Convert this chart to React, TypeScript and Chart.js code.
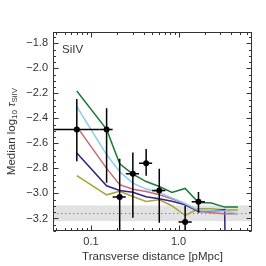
import React, { useEffect, useRef } from "react";
import { Chart, registerables } from "chart.js";
Chart.register(...registerables);

// Transverse distance bins [pMpc]
const distances = [0.069, 0.151, 0.213, 0.301, 0.427, 0.603, 0.84, 1.19, 1.69, 2.38, 3.36, 4.76];
// Model curves (median log10 tau_SiIV)
const modelGreen = [-2.181, -2.488, -2.763, -2.845, -2.905, -2.944, -2.992, -2.96, -3.072, -3.077, -3.109, -3.109];
const modelLightBlue = [-2.306, -2.689, -2.827, -2.917, -2.965, -2.992, -3.035, -3.08, -3.133, -3.141, -3.141, -3.16];
const modelPink = [-2.466, -2.8, -2.93, -2.967, -2.984, -3.01, -3.043, -3.083, -3.138, -3.154, -3.162, -3.162];
const modelIndigo = [-2.676, -2.939, -2.976, -2.991, -3.027, -3.043, -3.063, -3.09, -3.144, -3.144, -3.13, -10];
const modelOlive = [-2.857, -3.011, -2.983, -3.024, -3.064, -3.05, -3.098, -3.176, -3.122, -3.122, -3.133, -3.133];

// Observed points with error bars
const obsX = [0.069, 0.151, 0.213, 0.301, 0.427, 0.603, 1.19, 1.69];
const obsY = [-2.49, -2.49, -3.029, -2.843, -2.758, -2.976, -3.229, -3.067];
const obsYHi = [-2.245, -2.319, -2.723, -2.673, -2.644, -2.803, -3.098, -2.989];
const obsYLo = [-2.742, -2.915, -3.6, -3.194, -2.859, -3.234, -3.6, -3.154];
const obsXLo = [0.02, 0.125, 0.177, 0.25, 0.354, 0.5, 1.0, 1.414];
const obsXHi = [0.125, 0.177, 0.25, 0.354, 0.5, 0.707, 1.414, 2.0];

// Background level band
const bandLo = -3.221;
const bandHi = -3.096;
const bandMid = -3.16;

const yTicks = [-1.8, -2.0, -2.2, -2.4, -2.6, -2.8, -3.0, -3.2];
const yMinorStep = 0.05;
const xTicks = [0.1, 1.0];
const xTickLabels = ["0.1", "1.0"];

const X_MIN = 0.0369;
const X_MAX = 6.9;
const Y_MIN = -3.3;
const Y_MAX = -1.71;

const FONT = '"Liberation Sans", Arial, sans-serif';
const TEXT = "#333333";
const SPINE = "#333333";

const decor = {
  id: "decor",
  beforeDatasetsDraw(chart: any) {
    const { ctx, chartArea: a, scales } = chart;
    const ys = scales.y;
    ctx.save();
    const y1 = ys.getPixelForValue(bandHi);
    const y2 = ys.getPixelForValue(bandLo);
    ctx.fillStyle = "#e2e2e2";
    ctx.fillRect(a.left, y1, a.right - a.left, y2 - y1);
    const ym = Math.round(ys.getPixelForValue(bandMid)) + 0.5;
    ctx.strokeStyle = "#777777";
    ctx.lineWidth = 1.2;
    ctx.setLineDash([1.3, 2.7]);
    ctx.beginPath();
    ctx.moveTo(a.left, ym);
    ctx.lineTo(a.right, ym);
    ctx.stroke();
    ctx.restore();
  },
  afterDatasetsDraw(chart: any) {
    const { ctx, chartArea: a, scales } = chart;
    const xs = scales.x;
    const ys = scales.y;
    // error bars
    ctx.save();
    ctx.beginPath();
    ctx.rect(a.left, a.top, a.right - a.left, a.bottom - a.top);
    ctx.clip();
    ctx.strokeStyle = "#000";
    ctx.lineWidth = 1.5;
    for (let i = 0; i < obsX.length; i++) {
      const px = xs.getPixelForValue(obsX[i]);
      const py = ys.getPixelForValue(obsY[i]);
      ctx.beginPath();
      ctx.moveTo(px, ys.getPixelForValue(obsYHi[i]));
      ctx.lineTo(px, ys.getPixelForValue(obsYLo[i]));
      ctx.moveTo(xs.getPixelForValue(obsXLo[i]), py);
      ctx.lineTo(xs.getPixelForValue(obsXHi[i]), py);
      ctx.stroke();
    }
    ctx.fillStyle = "#000";
    for (let i = 0; i < obsX.length; i++) {
      ctx.beginPath();
      ctx.arc(xs.getPixelForValue(obsX[i]), ys.getPixelForValue(obsY[i]), 3, 0, Math.PI * 2);
      ctx.fill();
    }
    ctx.restore();

    ctx.save();
    // spines
    ctx.strokeStyle = SPINE;
    ctx.lineWidth = 1;
    const L = Math.round(a.left) + 0.5;
    const R = Math.round(a.right) - 0.5;
    const T = Math.round(a.top) + 0.5;
    const B = Math.round(a.bottom) - 0.5;
    ctx.strokeRect(L, T, R - L, B - T);
    // x ticks
    const majLen = 5;
    const minLen = 2.5;
    ctx.beginPath();
    for (let d = -2; d <= 1; d++) {
      for (let m = 1; m <= 9; m++) {
        const v = m * Math.pow(10, d);
        if (v < X_MIN || v > X_MAX) continue;
        const px = Math.round(xs.getPixelForValue(v)) + 0.5;
        const len = m === 1 ? majLen : minLen;
        ctx.moveTo(px, B);
        ctx.lineTo(px, B - len);
        ctx.moveTo(px, T);
        ctx.lineTo(px, T + len);
      }
    }
    // y ticks
    const nMin = Math.ceil((Y_MIN - 1e-9) / yMinorStep);
    const nMax = Math.floor((Y_MAX + 1e-9) / yMinorStep);
    for (let n = nMin; n <= nMax; n++) {
      const v = n * yMinorStep;
      const isMaj = Math.abs(n % 4) === 0;
      const py = Math.round(ys.getPixelForValue(v)) + 0.5;
      const len = isMaj ? majLen : minLen;
      ctx.moveTo(L, py);
      ctx.lineTo(L + len, py);
      ctx.moveTo(R, py);
      ctx.lineTo(R - len, py);
    }
    ctx.stroke();

    // tick labels
    ctx.fillStyle = TEXT;
    ctx.font = `11px ${FONT}`;
    ctx.textAlign = "right";
    ctx.textBaseline = "middle";
    for (const v of yTicks) {
      const py = ys.getPixelForValue(v);
      ctx.fillText("\u2212" + Math.abs(v).toFixed(1), a.left - 5, py);
    }
    ctx.textAlign = "center";
    ctx.textBaseline = "top";
    xTicks.forEach((v, i) => {
      ctx.fillText(xTickLabels[i], xs.getPixelForValue(v), a.bottom + 5);
    });

    // x title
    ctx.font = `11.5px ${FONT}`;
    ctx.textBaseline = "middle";
    ctx.fillText("Transverse distance [pMpc]", (a.left + a.right) / 2, 257);

    // panel label
    ctx.font = `11.5px ${FONT}`;
    ctx.textAlign = "left";
    ctx.textBaseline = "alphabetic";
    ctx.fillText("SiIV", a.left + 9, 53);

    // y title with subscripts
    const segs = [
      { t: "Median log", f: `11.5px ${FONT}`, dy: 0 },
      { t: "10", f: `8px ${FONT}`, dy: 3 },
      { t: " ", f: `11.5px ${FONT}`, dy: 0 },
      { t: "\u03c4", f: `italic 11.5px ${FONT}`, dy: 0 },
      { t: "SiIV", f: `8px ${FONT}`, dy: 3 },
    ];
    let total = 0;
    const widths = segs.map((s) => {
      ctx.font = s.f;
      const w = ctx.measureText(s.t).width;
      total += w;
      return w;
    });
    ctx.translate(12, (a.top + a.bottom) / 2);
    ctx.rotate(-Math.PI / 2);
    ctx.textAlign = "left";
    ctx.textBaseline = "middle";
    let cx = -total / 2;
    segs.forEach((s, i) => {
      ctx.font = s.f;
      ctx.fillText(s.t, cx, s.dy);
      cx += widths[i];
    });
    ctx.restore();
  },
};

function toXY(ys: number[]) {
  return distances.map((d, i) => ({ x: d, y: ys[i] }));
}

export default function App() {
  const ref = useRef<HTMLCanvasElement | null>(null);
  useEffect(() => {
    if (!ref.current) return;
    const line = (data: number[], color: string) => ({
      type: "line" as const,
      data: toXY(data),
      borderColor: color,
      backgroundColor: color,
      borderWidth: 1.5,
      pointRadius: 0,
      tension: 0,
      fill: false,
    });
    const chart = new Chart(ref.current, {
      type: "line",
      data: {
        datasets: [
          line(modelGreen, "#1b7a3a"),
          line(modelLightBlue, "#88ccee"),
          line(modelPink, "#cc6677"),
          line(modelIndigo, "#332288"),
          line(modelOlive, "#a8a33a"),
        ] as any,
      },
      options: {
        responsive: false,
        animation: false,
        devicePixelRatio: 1,
        events: [],
        layout: { padding: { left: 53, top: 32, right: 14, bottom: 35 } },
        plugins: { legend: { display: false }, tooltip: { enabled: false } },
        scales: {
          x: { type: "logarithmic", min: X_MIN, max: X_MAX, display: false },
          y: { type: "linear", min: Y_MIN, max: Y_MAX, display: false },
        },
      },
      plugins: [decor],
    });
    return () => chart.destroy();
  }, []);
  return (
    <div style={{ position: "fixed", left: 0, top: 0, width: 266, height: 266, background: "#fff" }}>
      <canvas ref={ref} width={266} height={266} />
    </div>
  );
}
